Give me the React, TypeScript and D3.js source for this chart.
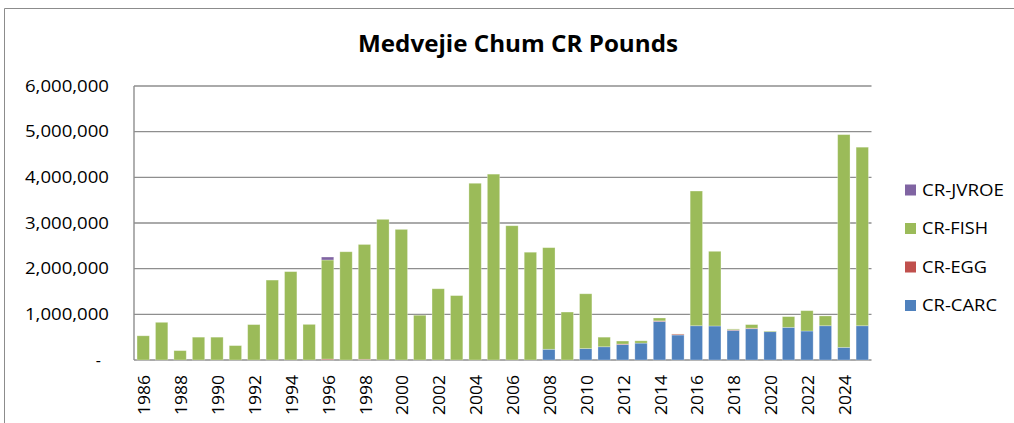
import { useEffect, useRef } from 'react';
import * as d3 from 'd3';

const years = [
  '1986', '1987', '1988', '1989', '1990', '1991', '1992', '1993', '1994', '1995',
  '1996', '1997', '1998', '1999', '2000', '2001', '2002', '2003', '2004', '2005',
  '2006', '2007', '2008', '2009', '2010', '2011', '2012', '2013', '2014', '2015',
  '2016', '2017', '2018', '2019', '2020', '2021', '2022', '2023', '2024', '2025',
];

const carc = [
  0, 0, 0, 0, 0, 0, 0, 0, 0, 0,
  0, 0, 0, 0, 0, 0, 0, 0, 0, 0,
  0, 0, 235000, 0, 250000, 290000, 340000, 370000, 845000, 547000,
  750000, 745000, 650000, 685000, 620000, 715000, 635000, 750000, 277000, 750000,
];

const egg = [
  0, 0, 0, 0, 0, 0, 0, 0, 0, 0,
  20000, 0, 15000, 0, 0, 0, 0, 0, 0, 0,
  0, 0, 0, 0, 0, 0, 10000, 0, 12000, 20000,
  0, 0, 12000, 12000, 0, 0, 0, 0, 0, 0,
];

const fish = [
  530000, 825000, 205000, 500000, 500000, 315000, 775000, 1750000, 1935000, 780000,
  2170000, 2370000, 2515000, 3080000, 2860000, 980000, 1560000, 1410000, 3870000, 4070000,
  2940000, 2360000, 2225000, 1050000, 1200000, 210000, 65000, 50000, 63000, 3000,
  2950000, 1635000, 18000, 78000, 15000, 235000, 445000, 215000, 4658000, 3910000,
];

const jvroe = [
  0, 0, 0, 0, 0, 0, 0, 0, 0, 0,
  65000, 0, 0, 0, 0, 0, 0, 0, 0, 0,
  0, 0, 0, 0, 0, 0, 0, 0, 0, 0,
  0, 0, 0, 0, 0, 0, 0, 0, 0, 0,
];

const seriesNames = ['CR-CARC', 'CR-EGG', 'CR-FISH', 'CR-JVROE'];
const seriesColors = ['#4f81bd', '#c0504d', '#9bbb59', '#8064a2'];
const legendWidths = [75, 65, 66, 82];
const yTicks = [0, 1000000, 2000000, 3000000, 4000000, 5000000, 6000000];

const W = 1014;
const H = 423;
const FONT = 'Open Sans, Liberation Sans, Arial, sans-serif';

const App = () => {
  const svgRef = useRef<SVGSVGElement>(null);

  useEffect(() => {
    if (!svgRef.current) return;
    const svg = d3.select(svgRef.current);
    svg.selectAll('*').remove();

    const left = 134, right = 871.5, top = 86, bottom = 360;

    const x = d3.scaleBand<string>()
      .domain(years)
      .range([left, right])
      .paddingInner(0.33)
      .paddingOuter(0.165);

    const y = d3.scaleLinear().domain([0, 6000000]).range([bottom, top]);

    // outer frame
    svg.append('path')
      .attr('d', `M4.5,${H} L4.5,8.5 L${W},8.5`)
      .attr('fill', 'none')
      .attr('stroke', '#8c8c8c')
      .attr('stroke-width', 1);

    svg.append('text')
      .attr('x', 518)
      .attr('y', 52)
      .attr('text-anchor', 'middle')
      .attr('font-family', FONT)
      .attr('font-weight', 'bold')
      .attr('font-size', 23.5)
      .attr('textLength', 320)
      .attr('lengthAdjust', 'spacingAndGlyphs')
      .text('Medvejie Chum CR Pounds');

    // gridlines
    svg.append('g')
      .selectAll('line')
      .data(yTicks)
      .enter().append('line')
      .attr('x1', left)
      .attr('x2', right)
      .attr('y1', d => y(d))
      .attr('y2', d => y(d))
      .attr('stroke', '#8e8e8e')
      .attr('stroke-width', 1.4);

    svg.append('line')
      .attr('x1', left).attr('x2', left)
      .attr('y1', top).attr('y2', bottom)
      .attr('stroke', '#8e8e8e')
      .attr('stroke-width', 1.4);

    // y labels
    const fmt = d3.format(',');
    svg.append('g')
      .selectAll('text')
      .data(yTicks)
      .enter().append('text')
      .attr('x', d => (d === 0 ? 101 : 109))
      .attr('y', d => y(d))
      .attr('dy', '0.36em')
      .attr('text-anchor', 'end')
      .attr('font-family', FONT)
      .attr('font-size', 16)
      .attr('textLength', d => (d === 0 ? null : 84))
      .attr('lengthAdjust', 'spacingAndGlyphs')
      .text(d => (d === 0 ? '-' : fmt(d)));

    // stacked bars
    const rows = years.map((yr, i) => ({
      year: yr,
      'CR-CARC': carc[i],
      'CR-EGG': egg[i],
      'CR-FISH': fish[i],
      'CR-JVROE': jvroe[i],
    }));
    const layers = d3.stack<any>().keys(seriesNames)(rows);

    svg.append('g')
      .selectAll('g')
      .data(layers)
      .enter().append('g')
      .attr('fill', (_d, i) => seriesColors[i])
      .selectAll('rect')
      .data(d => d.filter(p => p[1] - p[0] > 0))
      .enter().append('rect')
      .attr('x', d => x(d.data.year) || 0)
      .attr('y', d => y(d[1]))
      .attr('width', x.bandwidth())
      .attr('height', d => y(d[0]) - y(d[1]))
      .attr('stroke', 'rgba(255,255,255,0.35)')
      .attr('stroke-width', 0.8);

    // x labels (every other year)
    svg.append('g')
      .selectAll('text')
      .data(years.filter((_d, i) => i % 2 === 0))
      .enter().append('text')
      .attr('transform', d => `translate(${(x(d) || 0) + x.bandwidth() / 2 + 1},375) rotate(-90)`)
      .attr('dy', '0.36em')
      .attr('text-anchor', 'end')
      .attr('font-family', FONT)
      .attr('font-size', 17)
      .attr('textLength', 40)
      .attr('lengthAdjust', 'spacingAndGlyphs')
      .text(d => d);

    // legend
    const legendOrder = [3, 2, 1, 0];
    const lg = svg.append('g');
    legendOrder.forEach((si, k) => {
      const cy = 190 + k * 38.5;
      lg.append('rect')
        .attr('x', 905)
        .attr('y', cy - 5.5)
        .attr('width', 11)
        .attr('height', 11)
        .attr('fill', seriesColors[si]);
      lg.append('text')
        .attr('x', 922)
        .attr('y', cy)
        .attr('dy', '0.36em')
        .attr('font-family', FONT)
        .attr('font-size', 16)
        .attr('textLength', legendWidths[si])
        .attr('lengthAdjust', 'spacingAndGlyphs')
        .text(seriesNames[si]);
    });
  }, []);

  return (
    <svg
      ref={svgRef}
      width={W}
      height={H}
      style={{ position: 'absolute', left: 0, top: 0, background: '#fff' }}
    />
  );
};

export default App;
